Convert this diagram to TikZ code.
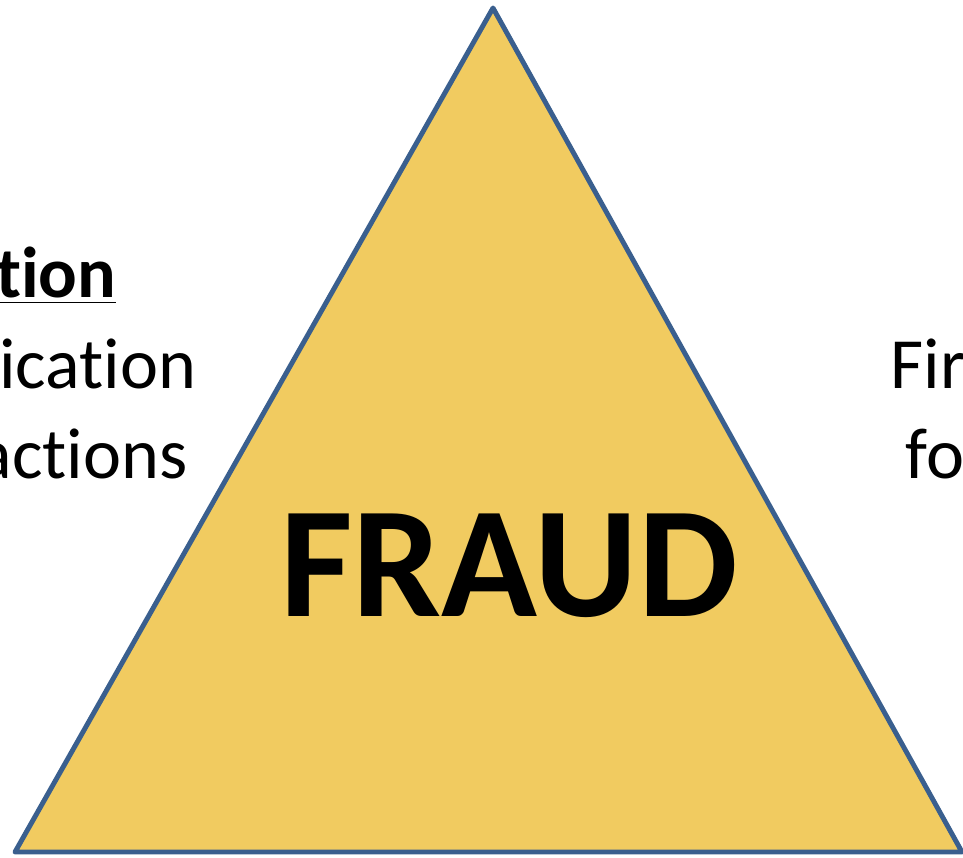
\documentclass[tikz,border=0pt]{standalone}
\usepackage{fontspec}
\setmainfont{Carlito}
\usepackage{xcolor}
\usetikzlibrary{positioning}

\definecolor{fraudfill}{HTML}{F1CB60}
\definecolor{fraudline}{HTML}{3A5F8E}
% keeps t and i apart (no ti ligature)
\newcommand{\tsep}{\kern0pt}

\begin{document}
\begin{tikzpicture}[x=0.01cm,y=-0.01cm,
        side/.style={font=\fontsize{20.5}{24}\selectfont,inner sep=0pt}]
        \useasboundingbox (0,0) rectangle (963,857);
        \clip (0,0) rectangle (963,857);
        % the triangle
        \coordinate (apex) at (493,8);
        \coordinate (bl) at (15,852);
        \coordinate (br) at (962,852);
        \draw[line width=1.4pt, fraudline, fill=fraudfill, line join=round] (apex) -- (bl) -- (br) -- cycle;
        \node[font=\fontsize{45}{50}\selectfont\bfseries] (fraud) at (509,566) {FRAUD};
        % left side
        \node[side, anchor=base east] (lhead) at (117,297) {\textbf{\underline{t\tsep ion}}};
        \node[side, anchor=base east] (lone) at (197,388) {icat\tsep ion};
        \node[side, anchor=base east] (ltwo) at (188,478) {act\tsep ions};
        % right side
        \node[side, anchor=base west] (rone) at (890,388) {Fir};
        \node[side, anchor=base west] (rtwo) at (905,478) {fo};
    \end{tikzpicture}
\end{document}
